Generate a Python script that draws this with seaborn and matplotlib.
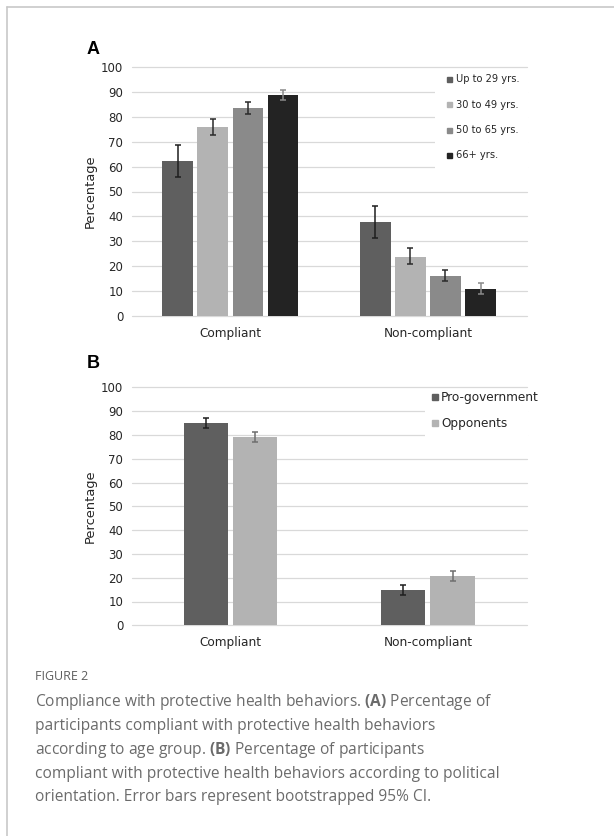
import numpy as np
import pandas as pd
import matplotlib
matplotlib.use("Agg")
import matplotlib.pyplot as plt
from matplotlib.lines import Line2D
from matplotlib.patches import Rectangle
import seaborn as sns

sns.set_style("white")
plt.rcParams['font.family'] = ['DejaVu Sans']
plt.rcParams['font.sans-serif'] = ['DejaVu Sans']
plt.rcParams['mathtext.fontset'] = 'custom'
plt.rcParams['mathtext.bf'] = 'Open Sans:bold'

# ---- data ----
outcomes = ['Compliant', 'Non-compliant']

age_groups = ['Up to 29 yrs.', '30 to 49 yrs.', '50 to 65 yrs.', '66+ yrs.']
age_pct = [[62.1, 37.6], [75.8, 23.8], [83.6, 16.1], [88.8, 10.9]]
age_lo = [[55.9, 31.2], [72.6, 20.8], [81.4, 14.0], [86.8, 8.7]]
age_hi = [[68.7, 44.0], [79.1, 27.1], [85.9, 18.4], [91.0, 13.0]]

pol_groups = ['Pro-government', 'Opponents']
pol_pct = [[85.0, 14.9], [79.0, 20.7]]
pol_lo = [[82.8, 12.8], [77.2, 18.8]]
pol_hi = [[87.1, 17.1], [81.2, 22.7]]

age_colors = ['#5f5f5f', '#b3b3b3', '#8a8a8a', '#232323']
age_err_colors = ['#1e1e1e', '#2a2a2a', '#2a2a2a', '#8a8a8a']
pol_colors = ['#5f5f5f', '#b3b3b3']
pol_err_colors = ['#1e1e1e', '#6e6e6e']

GRID = '#d9d9d9'
TXT = '#262626'
W, H = 614, 836


def fx(px):
    return px / W


def fy(py):
    return 1 - py / H


def make_df(groups, pct, lo, hi):
    rows = []
    for g, p, l, h in zip(groups, pct, lo, hi):
        for o, pv, lv, hv in zip(outcomes, p, l, h):
            rows.append({'Outcome': o, 'Group': g, 'Pct': pv, 'lo': lv, 'hi': hv})
    return pd.DataFrame(rows)


def draw_panel(ax, df, groups, colors, err_colors, width, gap):
    sns.barplot(data=df, x='Outcome', y='Pct', hue='Group', order=outcomes,
                hue_order=groups, palette=colors, width=width, gap=gap,
                errorbar=None, legend=False, saturation=1, linewidth=0, ax=ax)
    # error bars from the precomputed CI
    for cont, g, ec in zip(ax.containers, groups, err_colors):
        sub = df[df.Group == g].set_index('Outcome').loc[outcomes]
        xs = [b.get_x() + b.get_width() / 2 for b in cont]
        ys = sub.Pct.values
        yerr = [ys - sub.lo.values, sub.hi.values - ys]
        ax.errorbar(xs, ys, yerr=yerr, fmt='none', ecolor=ec, elinewidth=1.1,
                    capsize=2.3, capthick=1.1, zorder=4)
    ax.set_ylim(0, 100)
    ax.set_xlim(-0.5, 1.5)
    ax.set_yticks(np.arange(0, 101, 10))
    ax.yaxis.grid(True, color=GRID, linewidth=0.9)
    ax.set_axisbelow(True)
    for gl in ax.get_ygridlines():
        gl.set_clip_on(False)
    for s in ax.spines.values():
        s.set_visible(False)
    ax.tick_params(axis='both', length=0, colors=TXT)
    ax.tick_params(axis='y', pad=6, labelsize=8.5)
    ax.tick_params(axis='x', pad=8, labelsize=8.7)
    for t in ax.get_xticklabels() + ax.get_yticklabels():
        t.set_family('DejaVu Sans')
    ax.set_xlabel('')
    ax.set_ylabel('Percentage', fontsize=9.4, color=TXT, labelpad=3,
                  family='DejaVu Sans')


def add_legend(ax, groups, colors, msize, fs, spacing, pad, x0, y0, box):
    # white patch that hides the gridlines behind the legend
    ax.add_patch(Rectangle((fx(box[0]), fy(box[3])), fx(box[2]) - fx(box[0]),
                           fy(box[1]) - fy(box[3]), transform=ax.figure.transFigure,
                           facecolor='white', edgecolor='none', zorder=0.8,
                           clip_on=False))
    hs = [Line2D([], [], marker='s', ls='', color=c, markersize=msize) for c in colors]
    leg = ax.legend(hs, groups, loc='upper left', bbox_to_anchor=(fx(x0), fy(y0)),
                    bbox_transform=ax.figure.transFigure, frameon=False,
                    fontsize=fs, labelspacing=spacing, handletextpad=pad,
                    handlelength=0.6, borderpad=0, borderaxespad=0)
    for t in leg.get_texts():
        t.set_color(TXT)
    return leg


fig = plt.figure(figsize=(6.14, 8.36), dpi=100)

# panel A
axA = fig.add_axes([fx(131.7), fy(315.7), fx(526.7) - fx(131.7), fy(67.3) - fy(315.7)])
dfA = make_df(age_groups, age_pct, age_lo, age_hi)
draw_panel(axA, dfA, age_groups, age_colors, age_err_colors, 0.71, 0.12)
add_legend(axA, age_groups, age_colors, 3.6, 7.1, 1.55, 0.36, 446.5, 74.5,
           (435, 72, 528, 185))

# panel B
axB = fig.add_axes([fx(131.7), fy(625.3), fx(526.7) - fx(131.7), fy(387.3) - fy(625.3)])
dfB = make_df(pol_groups, pol_pct, pol_lo, pol_hi)
draw_panel(axB, dfB, pol_groups, pol_colors, pol_err_colors, 0.50, 0.10)
add_legend(axB, pol_groups, pol_colors, 4.3, 8.7, 1.09, 0.19, 431.4, 391,
           (425, 392, 528, 447))

# panel letters
fig.text(fx(87), fy(50), 'A', fontsize=13, fontweight='bold',
         family='Liberation Sans', va='center', ha='left', color='black')
fig.text(fx(87), fy(363), 'B', fontsize=13, fontweight='bold',
         family='Liberation Sans', va='center', ha='left', color='black')

# outer border (left + top)
fig.add_artist(Line2D([fx(7), fx(7)], [0, fy(7)], color='#c8c8c8', lw=1.2))
fig.add_artist(Line2D([fx(7), 1], [fy(7), fy(7)], color='#c8c8c8', lw=1.2))

# caption
CAP = '#6b6b6b'
fig.text(fx(35), fy(677), 'FIGURE 2', fontsize=9, family='Open Sans',
         color='#5e5e5e', va='center', ha='left')
cap_lines = [
    r'Compliance with protective health behaviors. $\mathbf{(A)}$ Percentage of',
    'participants compliant with protective health behaviors',
    r'according to age group. $\mathbf{(B)}$ Percentage of participants',
    'compliant with protective health behaviors according to political',
    'orientation. Error bars represent bootstrapped 95% CI.',
]
cap_y = [701.7, 726, 750, 773.5, 797]
for line, yy in zip(cap_lines, cap_y):
    fig.text(fx(35), fy(yy), line, fontsize=11.2, family='Open Sans',
             color=CAP, va='center', ha='left')

fig.savefig('out.png', dpi=100, facecolor='white')
